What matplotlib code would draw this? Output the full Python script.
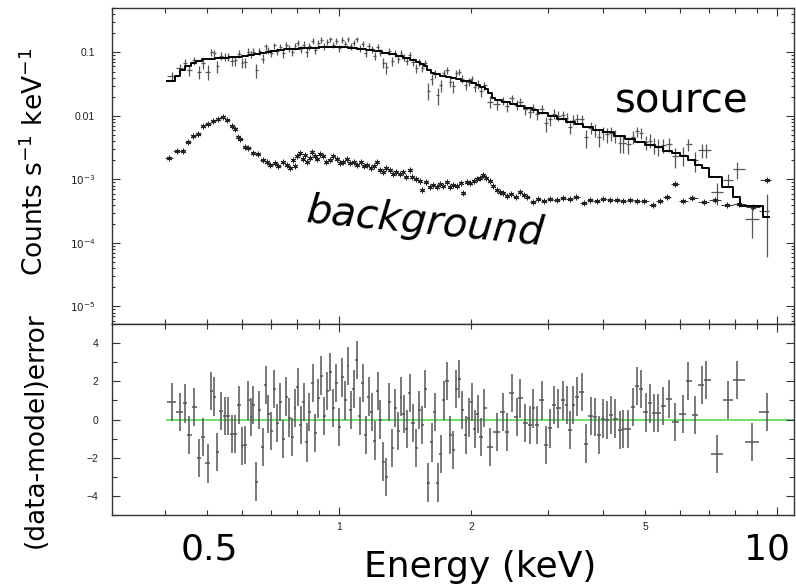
import matplotlib
matplotlib.use("Agg")
import numpy as np
import matplotlib.pyplot as plt
from matplotlib.ticker import FixedLocator, FuncFormatter, NullFormatter

# ---------------- data ----------------
# source spectrum: bin centres (keV), rate (counts/s/keV), 1-sigma error, residual (data-model)/error
src_e_a = [0.416, 0.434, 0.445, 0.455, 0.467, 0.479, 0.489, 0.502, 0.511, 0.519, 0.526, 0.538, 0.549,
           0.558, 0.570, 0.580, 0.592, 0.600, 0.610, 0.620, 0.629, 0.637, 0.647, 0.656, 0.670, 0.681]
src_v_a = [0.042, 0.056, 0.068, 0.052, 0.075, 0.050, 0.067, 0.050, 0.100, 0.097, 0.060, 0.088, 0.086,
           0.086, 0.074, 0.075, 0.096, 0.069, 0.070, 0.103, 0.094, 0.103, 0.053, 0.104, 0.080, 0.124]
src_err_a = [0.0065, 0.009, 0.010, 0.010, 0.011, 0.012, 0.012, 0.013, 0.013, 0.013, 0.013, 0.013, 0.013,
             0.013, 0.013, 0.013, 0.013, 0.013, 0.013, 0.013, 0.013, 0.013, 0.013, 0.013, 0.013, 0.013]
resid_a = [0.93, 0.40, 0.84, -0.80, 0.67, -2.00, -0.90, -2.30, 1.50, 1.20, -1.70, 0.45, 0.20,
           0.20, -0.75, -0.75, 0.75, -1.40, -1.35, 1.00, 0.15, 0.75, -3.25, 0.50, -1.45, 1.80]

src_e_b = [0.690, 0.701, 0.712, 0.723, 0.734, 0.745, 0.757, 0.769, 0.781, 0.793,
           0.805, 0.818, 0.830, 0.843, 0.856, 0.870, 0.883, 0.897, 0.911, 0.925,
           0.940, 0.955, 0.970, 0.985, 1.000, 1.016, 1.032, 1.048, 1.064, 1.081,
           1.098, 1.115, 1.132, 1.150, 1.168, 1.186, 1.205, 1.224, 1.243, 1.262,
           1.282, 1.302, 1.322, 1.343, 1.364, 1.385]
src_v_b = [0.108, 0.097, 0.129, 0.105, 0.123, 0.097, 0.131, 0.116, 0.102, 0.125,
           0.143, 0.113, 0.133, 0.100, 0.126, 0.151, 0.110, 0.139, 0.158, 0.125,
           0.146, 0.162, 0.131, 0.152, 0.116, 0.156, 0.136, 0.162, 0.126, 0.140,
           0.162, 0.116, 0.138, 0.099, 0.125, 0.112, 0.089, 0.121, 0.099, 0.069,
           0.058, 0.104, 0.073, 0.096, 0.080, 0.097]
src_err_b = [0.0135, 0.0137, 0.014, 0.014, 0.014, 0.0145, 0.0147, 0.015, 0.015, 0.015,
             0.015, 0.015, 0.0155, 0.0155, 0.0156, 0.0157, 0.0157, 0.0158, 0.0158, 0.0158,
             0.0158, 0.0158, 0.0158, 0.0158, 0.0158, 0.0157, 0.0156, 0.0155, 0.0153, 0.015,
             0.015, 0.0147, 0.0144, 0.0143, 0.014, 0.0138, 0.0135, 0.0131, 0.0128, 0.0126,
             0.0124, 0.0121, 0.0118, 0.0116, 0.0113, 0.011]
resid_b = [0.3, -0.6, 1.6, -0.2, 0.9, -1.0, 1.2, 0.1, -0.9, 0.6,
           1.7, -0.3, 0.9, -1.2, 0.4, 1.9, -0.7, 1.1, 2.3, 0.2,
           1.5, 2.5, 0.6, 1.9, -0.4, 2.2, 1.0, 2.8, 0.5, 1.6,
           3.1, 0.2, 1.9, -0.8, 1.2, 0.4, -1.1, 1.5, 0.0, -2.2,
           -3.0, 0.9, -1.5, 0.6, -0.6, 1.2]

src_e_c = [1.405, 1.428, 1.451, 1.475, 1.499, 1.524, 1.549, 1.574, 1.600, 1.626,
           1.653, 1.680, 1.707, 1.735, 1.764, 1.793, 1.822, 1.852, 1.882, 1.913,
           1.945, 1.977, 2.009, 2.042, 2.075, 2.109, 2.144]
src_v_c = [0.083, 0.073, 0.090, 0.071, 0.056, 0.0695, 0.0575, 0.068, 0.025, 0.0384,
           0.0467, 0.0212, 0.0305, 0.0473, 0.0524, 0.0342, 0.0291, 0.0473, 0.049, 0.0388,
           0.0307, 0.0345, 0.0376, 0.029, 0.0314, 0.0248, 0.0302]
src_err_c = [0.0105, 0.0103, 0.0100, 0.0097, 0.0094, 0.0090, 0.0085, 0.0080, 0.0075, 0.0072,
             0.0068, 0.0066, 0.0064, 0.0063, 0.0062, 0.0060, 0.0059, 0.0058, 0.0057, 0.0055,
             0.0054, 0.0053, 0.0051, 0.0050, 0.0048, 0.0047, 0.0045]
resid_c = [0.3, -0.5, 1.4, -0.2, -1.5, 0.5, -0.3, 1.6, -3.3, -1.2,
           0.4, -3.3, -1.8, 1.0, 2.0, -0.8, -1.6, 1.6, 2.1, 0.5,
           -0.8, 0.1, 0.9, -0.5, 0.3, -0.9, 0.6]

src_e_d = [2.212, 2.291, 2.372, 2.415, 2.479, 2.545, 2.590, 2.659, 2.730, 2.778,
           2.827, 2.902, 2.969, 3.032, 3.097, 3.168, 3.241, 3.310, 3.368, 3.428,
           3.488, 3.581, 3.664, 3.755, 3.841, 3.929, 4.013, 4.084, 4.172, 4.267,
           4.381, 4.459, 4.577, 4.699, 4.799, 4.884, 5.022, 5.129, 5.238, 5.358,
           5.502, 5.678, 5.848, 6.088, 6.276, 6.500, 6.730, 6.885, 7.281, 7.742,
           8.117, 8.754, 9.472]
src_v_d = [0.0168, 0.0155, 0.0174, 0.0142, 0.0189, 0.0149, 0.0167, 0.0127, 0.0117, 0.0133,
           0.0108, 0.0130, 0.0076, 0.0089, 0.0108, 0.0101, 0.0103, 0.0094, 0.0068, 0.0087,
           0.0091, 0.0090, 0.0046, 0.0065, 0.0061, 0.0046, 0.0055, 0.0051, 0.0053, 0.0049,
           0.0038, 0.0038, 0.0036, 0.0047, 0.0057, 0.0054, 0.0039, 0.0041, 0.0035, 0.0033,
           0.0035, 0.0036, 0.0023, 0.0024, 0.0036, 0.0020, 0.0029, 0.0029, 0.00064, 0.00098,
           0.00146, 0.00024, 0.00032]
src_err_d = [0.0036, 0.0030, 0.0028, 0.0028, 0.0027, 0.0026, 0.0025, 0.0024, 0.0023, 0.0023,
             0.0022, 0.0021, 0.0020, 0.0020, 0.0019, 0.0019, 0.0018, 0.0017, 0.0017, 0.0016,
             0.0016, 0.0015, 0.0015, 0.0014, 0.0014, 0.0014, 0.0013, 0.0013, 0.0013, 0.0012,
             0.0012, 0.0012, 0.0011, 0.0011, 0.0011, 0.0011, 0.0010, 0.0010, 0.0010, 0.0010,
             0.0009, 0.0009, 0.0008, 0.0008, 0.0008, 0.0007, 0.0007, 0.0007, 0.00025, 0.00022,
             0.00045, 0.00012, 0.00026]
resid_d = [-1.45, -0.65, 0.40, -0.65, 1.37, 0.14, 1.10, -0.20, -0.30, 0.58,
           -0.30, 1.00, -1.35, -0.47, 0.75, 0.58, 1.00, 0.75, -0.56, 0.75,
           1.20, 1.45, -1.26, 0.18, 0.14, -0.80, 0.05, -0.04, 0.23, 0.05,
           -0.56, -0.50, -0.50, 0.67, 1.77, 1.58, 0.37, 0.84, 0.35, 0.32,
           0.72, 1.07, -0.14, 0.30, 2.00, 0.23, 1.80, 2.07, -1.82, 1.02,
           2.07, -1.18, 0.40]
src_first_edge = 0.404
src_last_edge = 9.60

# best-fit model (step histogram): left bin edges and values
model_e = [0.404, 0.422, 0.433, 0.445, 0.458, 0.472, 0.487, 0.50, 0.52, 0.54,
           0.56, 0.58, 0.60, 0.62, 0.64, 0.66, 0.68, 0.70, 0.72, 0.75,
           0.78, 0.81, 0.85, 0.90, 0.95, 1.00, 1.05, 1.10, 1.15, 1.20,
           1.25, 1.30, 1.35, 1.40, 1.45, 1.50, 1.53, 1.56, 1.59, 1.62,
           1.65, 1.70, 1.75, 1.80, 1.85, 1.90, 1.95, 2.00, 2.05, 2.10,
           2.15, 2.19, 2.23, 2.27, 2.35, 2.45, 2.55, 2.65, 2.75, 2.85,
           3.00, 3.15, 3.30, 3.45, 3.60, 3.80, 4.00, 4.25, 4.50, 4.75,
           5.00, 5.25, 5.50, 5.75, 6.00, 6.25, 6.50, 6.75, 7.00, 7.50,
           7.93, 8.22, 9.29, 9.60]
model_v = [0.036, 0.043, 0.052, 0.060, 0.068, 0.074, 0.078, 0.080, 0.082, 0.083,
           0.084, 0.085, 0.087, 0.090, 0.094, 0.098, 0.101, 0.105, 0.108, 0.112,
           0.115, 0.117, 0.119, 0.122, 0.123, 0.122, 0.119, 0.115, 0.110, 0.104,
           0.098, 0.093, 0.088, 0.082, 0.077, 0.071, 0.066, 0.060, 0.053, 0.048,
           0.045, 0.043, 0.041, 0.040, 0.038, 0.036, 0.035, 0.033, 0.031, 0.029,
           0.027, 0.023, 0.019, 0.0175, 0.0165, 0.0155, 0.0145, 0.0133, 0.0122, 0.0113,
           0.0100, 0.0090, 0.0081, 0.0074, 0.0067, 0.0061, 0.0055, 0.0049, 0.0043, 0.0039,
           0.0035, 0.0032, 0.0028, 0.0026, 0.0023, 0.0020, 0.0017, 0.0015, 0.00109, 0.00076,
           0.00053, 0.00038, 0.00026, 0.00026]

# background spectrum
bkg_e = [0.410, 0.427, 0.440, 0.452, 0.464, 0.477, 0.489, 0.502, 0.516, 0.529,
         0.543, 0.555, 0.570, 0.579, 0.588, 0.594, 0.610, 0.620, 0.636, 0.653,
         0.670, 0.685, 0.696, 0.714, 0.726, 0.745, 0.761, 0.773, 0.785, 0.794,
         0.802, 0.815, 0.826, 0.836, 0.847, 0.858, 0.868, 0.880, 0.891, 0.905,
         0.919, 0.935, 0.953, 0.971, 0.990, 1.005, 1.020, 1.040, 1.060, 1.080,
         1.100, 1.120, 1.140, 1.160, 1.180, 1.200, 1.220, 1.240, 1.260, 1.280,
         1.310, 1.330, 1.350, 1.380, 1.400, 1.420, 1.450, 1.470, 1.500, 1.530,
         1.550, 1.580, 1.610, 1.640, 1.670, 1.700, 1.730, 1.760, 1.790, 1.820,
         1.860, 1.900, 1.920, 1.960, 1.990, 2.030, 2.070, 2.100, 2.130, 2.170,
         2.210, 2.250, 2.290, 2.330, 2.370, 2.420, 2.470, 2.530, 2.590, 2.640,
         2.690, 2.770, 2.850, 2.930, 3.030, 3.140, 3.250, 3.360, 3.480, 3.620,
         3.740, 3.880, 4.010, 4.150, 4.300, 4.460, 4.620, 4.800, 4.980, 5.200,
         5.400, 5.600, 5.850, 6.100, 6.400, 6.800, 7.200, 7.700, 8.200, 8.800,
         9.500]
bkg_v = [0.0022, 0.0028, 0.0028, 0.0039, 0.0048, 0.0051, 0.0069, 0.0074, 0.0083, 0.0091,
         0.0095, 0.0087, 0.0069, 0.0062, 0.0046, 0.0043, 0.0033, 0.0031, 0.0026, 0.0025,
         0.0020, 0.0019, 0.0017, 0.0018, 0.0016, 0.0019, 0.0017, 0.0015, 0.0020, 0.0016,
         0.0023, 0.0026, 0.0021, 0.0024, 0.0019, 0.0022, 0.0027, 0.0023, 0.0021, 0.0025,
         0.0023, 0.0019, 0.0020, 0.0023, 0.0021, 0.0018, 0.0019, 0.0021, 0.0018, 0.0019,
         0.0017, 0.0019, 0.0016, 0.0017, 0.0015, 0.0016, 0.0019, 0.0014, 0.0013, 0.0015,
         0.0014, 0.0012, 0.0013, 0.0012, 0.0013, 0.0011, 0.0014, 0.0011, 0.0010, 0.00095,
         0.00069, 0.00090, 0.00077, 0.00082, 0.00075, 0.00085, 0.00080, 0.00090, 0.00077, 0.00083,
         0.00078, 0.00088, 0.00061, 0.00090, 0.00088, 0.00095, 0.00100, 0.00105, 0.00117, 0.00105,
         0.00095, 0.00080, 0.00068, 0.00064, 0.00061, 0.00055, 0.00058, 0.00052, 0.00063, 0.00056,
         0.00052, 0.00044, 0.00049, 0.00046, 0.00050, 0.00048, 0.00051, 0.00049, 0.00052, 0.00043,
         0.00048, 0.00046, 0.00049, 0.00047, 0.00048, 0.00046, 0.00047, 0.00045, 0.00046, 0.00040,
         0.00046, 0.00053, 0.00085, 0.00046, 0.00051, 0.00044, 0.00047, 0.00040, 0.00041, 0.00037,
         0.00099]
bkg_first_edge = 0.400
bkg_last_edge = 9.70

y_ticks_top = [1e-5, 1e-4, 1e-3, 1e-2, 1e-1]
y_labels_top = ["$10^{-5}$", "$10^{-4}$", "$10^{-3}$", "0.01", "0.1"]
x_major = [1, 10]
x_minor = [0.4, 0.5, 0.6, 0.7, 0.8, 0.9, 2, 3, 4, 5, 6, 7, 8, 9]
x_labelled = {1: "1", 2: "2", 5: "5"}
resid_ticks = [-4, -2, 0, 2, 4]

# ---------------- assemble ----------------
src_e = np.array(src_e_a + src_e_b + src_e_c + src_e_d)
src_v = np.array(src_v_a + src_v_b + src_v_c + src_v_d)
src_err = np.array(src_err_a + src_err_b + src_err_c + src_err_d)
resid = np.array(resid_a + resid_b + resid_c + resid_d)
assert len(src_e) == len(src_v) == len(src_err) == len(resid)
assert len(model_e) == len(model_v)
assert len(bkg_e) == len(bkg_v)


def edges_from_centres(c, first, last):
    c = np.asarray(c)
    mids = np.sqrt(c[:-1] * c[1:])
    lo = np.concatenate([[first], mids])
    hi = np.concatenate([mids, [last]])
    return c - lo, hi - c


src_xlo, src_xhi = edges_from_centres(src_e, src_first_edge, src_last_edge)
bkg_xlo, bkg_xhi = edges_from_centres(bkg_e, bkg_first_edge, bkg_last_edge)

# ---------------- figure ----------------
plt.rcParams['font.family'] = ['DejaVu Sans']
plt.rcParams['mathtext.fontset'] = 'dejavusans'

W, H = 796, 585
fig = plt.figure(figsize=(W / 100, H / 100), dpi=100)

def fx(px):
    return px / W

def fy(py):
    return 1 - py / H

L, R = 112, 794
ax1 = fig.add_axes([fx(L), fy(324), fx(R) - fx(L), fy(8) - fy(324)])
ax2 = fig.add_axes([fx(L), fy(515), fx(R) - fx(L), fy(324) - fy(515)], sharex=ax1)

frame_col = '#333333'
data_col = '#555555'
tick_font = dict(family=['Liberation Sans', 'DejaVu Sans'], size=7.5)

# top panel
ax1.errorbar(src_e, src_v, yerr=src_err, xerr=[src_xlo, src_xhi], fmt='none',
             ecolor=data_col, elinewidth=0.9, capsize=0)
ax1.step(model_e, model_v, where='post', color='black', lw=1.4, zorder=3)
ax1.errorbar(bkg_e, bkg_v, xerr=[bkg_xlo, bkg_xhi], fmt='none', ecolor='#333333',
             elinewidth=0.7, capsize=0)
ax1.plot(bkg_e, bkg_v, ls='none', marker=(6, 2, 0), ms=4, mew=0.7, color='#222222')

ax1.set_xscale('log')
ax1.set_yscale('log')
ax1.set_xlim(0.3031, 10.93)
ax1.set_ylim(5.3e-6, 0.5)

# bottom panel
ax2.errorbar(src_e, resid, yerr=1.0, xerr=[src_xlo, src_xhi], fmt='none',
             ecolor=data_col, elinewidth=1.1, capsize=0)
ax2.plot([src_first_edge, 10.93], [0, 0], color='#6ee06e', lw=1.4, zorder=0)
ax2.set_ylim(-5, 5)

for ax in (ax1, ax2):
    for s in ax.spines.values():
        s.set_color(frame_col)
        s.set_linewidth(1.0)
    ax.tick_params(which='both', direction='in', top=True, right=True, color=frame_col,
                   width=0.8, labelcolor='#222222')
    ax.tick_params(which='major', length=6)
    ax.tick_params(which='minor', length=3.5)
    ax.xaxis.set_major_locator(FixedLocator(x_major))
    ax.xaxis.set_minor_locator(FixedLocator(x_minor))

ax1.tick_params(axis='x', which='both', labelbottom=False)
ax1.yaxis.set_major_locator(FixedLocator(y_ticks_top))
ax1.yaxis.set_minor_locator(FixedLocator(
    [m * 10.0 ** k for k in range(-6, 0) for m in range(2, 10)]))
ax1.yaxis.set_minor_formatter(NullFormatter())
ax1.set_yticklabels(y_labels_top, fontdict=tick_font)
ax1.tick_params(axis='y', which='major', pad=12)
ax1.tick_params(axis='y', which='minor', length=2.5)

fmt_x = FuncFormatter(lambda v, p: x_labelled.get(int(round(v)) if abs(v - round(v)) < 1e-6 else -1, ""))
ax2.xaxis.set_major_formatter(fmt_x)
ax2.xaxis.set_minor_formatter(fmt_x)
ax2.tick_params(axis='x', which='both', pad=5, labelsize=7.5)
for lab in ax2.get_xticklabels(which='both'):
    lab.set_fontfamily(tick_font['family'])
ax2.yaxis.set_major_locator(FixedLocator(resid_ticks))
ax2.yaxis.set_minor_locator(FixedLocator([-5, -3, -1, 1, 3, 5]))
ax2.set_yticklabels([f"{t}".replace('-', '\u2212') for t in resid_ticks], fontdict=tick_font)
ax2.tick_params(axis='y', which='major', pad=10)

# big annotation texts
fig.text(fx(615), fy(112), "source", fontsize=29, ha='left', va='baseline')
fig.text(fx(305), fy(222), "background", fontsize=29, style='italic', ha='left', va='baseline',
         rotation=-5.6, rotation_mode='anchor')
fig.text(fx(480), fy(577), "Energy (keV)", fontsize=26, ha='center', va='baseline')
fig.text(fx(209), fy(560), "0.5", fontsize=26, ha='center', va='baseline')
fig.text(fx(767), fy(560), "10", fontsize=26, ha='center', va='baseline')
fig.text(fx(35), fy(162), "Counts s$^{-1}$ keV$^{-1}$", fontsize=19, rotation=90,
         ha='center', va='center')
fig.text(fx(36), fy(430), "(data-model)error", fontsize=19, rotation=90,
         ha='center', va='center')

fig.savefig("out.png", dpi=100)
